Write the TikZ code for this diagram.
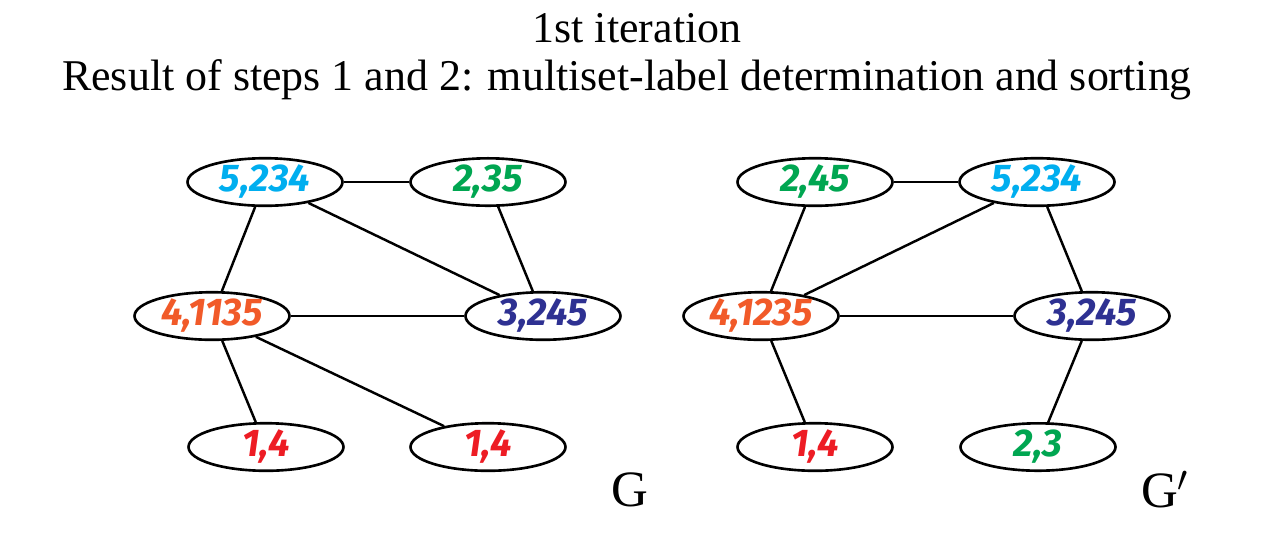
\documentclass[tikz,border=0pt]{standalone}
\usepackage{fontspec}
\setmainfont{Liberation Serif}
\setsansfont{Fira Sans}
\usetikzlibrary{shapes.geometric}
\definecolor{lblue}{RGB}{0,174,239}
\definecolor{lgreen}{RGB}{0,166,81}
\definecolor{lorange}{RGB}{241,90,41}
\definecolor{lnavy}{RGB}{46,49,146}
\definecolor{lred}{RGB}{237,28,36}
\begin{document}
\begin{tikzpicture}[x=0.02cm,y=-0.02cm,
    vtx/.style = {draw, ellipse, line width=1.5pt, minimum width=3.1cm, minimum height=0.8cm, inner sep=0pt,
      font=\sffamily\bfseries\itshape\fontsize{22}{24}\selectfont},
    edge/.style = {line width=1.4pt}]
        \useasboundingbox (0,0) rectangle (1274,559);
        \node[font=\fontsize{25}{28}\selectfont] (t1) at (637,28) {1st iteration};
        \node[font=\fontsize{25}{28}\selectfont] (t2) at (627,80) {Result of steps 1 and 2: multiset-label determination and sorting};

        % graph G
        \node[vtx,text=lblue] (a1) at (265,182) {5,234};
        \node[vtx,text=lgreen] (a2) at (488,182) {2,35};
        \node[vtx,text=lorange] (a3) at (212,316) {4,1135};
        \node[vtx,text=lnavy] (a4) at (543,316) {3,245};
        \node[vtx,text=lred] (a5) at (266,447) {1,4};
        \node[vtx,text=lred] (a6) at (488,447) {1,4};
        \node[font=\fontsize{29}{30}\selectfont] (g1) at (630,490) {G};

        \draw[edge] (a1) -- (a2);
        \draw[edge] (a1) -- (a3);
        \draw[edge] (a1) -- (a4);
        \draw[edge] (a2) -- (a4);
        \draw[edge] (a3) -- (a4);
        \draw[edge] (a3) -- (a5);
        \draw[edge] (a3) -- (a6);

        % graph G'
        \node[vtx,text=lgreen] (b1) at (815,182) {2,45};
        \node[vtx,text=lblue] (b2) at (1037,182) {5,234};
        \node[vtx,text=lorange] (b3) at (761,316) {4,1235};
        \node[vtx,text=lnavy] (b4) at (1092,316) {3,245};
        \node[vtx,text=lred] (b5) at (815,447) {1,4};
        \node[vtx,text=lgreen] (b6) at (1038,447) {2,3};
        \node[font=\fontsize{29}{30}\selectfont] (g2) at (1165,490) {G$'$};

        \draw[edge] (b1) -- (b2);
        \draw[edge] (b1) -- (b3);
        \draw[edge] (b2) -- (b3);
        \draw[edge] (b2) -- (b4);
        \draw[edge] (b3) -- (b4);
        \draw[edge] (b3) -- (b5);
        \draw[edge] (b4) -- (b6);
\end{tikzpicture}
\end{document}
